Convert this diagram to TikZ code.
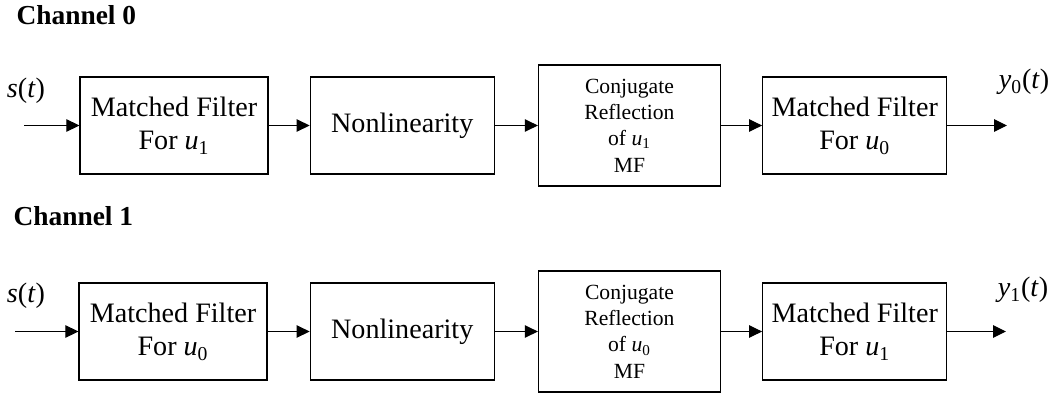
\documentclass[tikz,border=0pt]{standalone}
\usepackage{amsmath}
\usepackage{fontspec}
\setmainfont{Liberation Serif}
\usetikzlibrary{positioning,arrows.meta}

\begin{document}
\begin{tikzpicture}[line width=0.6pt,
	blk/.style={draw, line width=0.7pt, inner sep=0pt, align=center, minimum width=3.68cm, minimum height=1.94cm, font=\fontsize{16}{19}\selectfont},
	cblk/.style={blk, minimum width=3.64cm, minimum height=2.42cm, font=\fontsize{12.3}{15}\selectfont},
	sig/.style={-{Triangle[length=0.26cm,width=0.25cm]}},
	lbl/.style={font=\fontsize{16}{19}\selectfont},
	chan/.style={anchor=west, inner sep=0pt, font=\fontsize{15.6}{18}\selectfont\bfseries}]

\useasboundingbox (0,0) rectangle (21.1,-7.88);

%channel 0
\node[chan] (c0) at (0.32,-0.3) {Channel 0};

\node[blk, minimum width=3.76cm] (a) at (3.48,-2.51) {Matched Filter\\For \textit{u}$_{\text{1}}$};
\node[blk, right=0.82cm of a] (b) {Nonlinearity};
\node[cblk, right=0.86cm of b] (c) {Conjugate\\Reflection\\of \textit{u}$_{\text{1}}$\\MF};
\node[blk, right=0.82cm of c] (d) {Matched Filter\\For \textit{u}$_{\text{0}}$};

\coordinate (i0) at (0.48,-2.51);   %input s(t)
\coordinate (o0) at (20.14,-2.51);  %output y0(t)
\node[lbl] (s0) at (0.52,-1.82) {\textit{s}(\textit{t})};
\node[lbl] (y0) at (20.48,-1.64) {\textit{y}$_{\text{0}}$(\textit{t})};

\draw[sig] (i0) -- (a);
\draw[sig] (a) -- (b);
\draw[sig] (b) -- (c);
\draw[sig] (c) -- (d);
\draw[sig] (d) -- (o0);


%channel 1
\node[chan] (c1) at (0.26,-4.32) {Channel 1};

\node[blk, minimum width=3.76cm] (e) at (3.46,-6.63) {Matched Filter\\For \textit{u}$_{\text{0}}$};
\node[blk, right=0.84cm of e] (f) {Nonlinearity};
\node[cblk, right=0.86cm of f] (g) {Conjugate\\Reflection\\of \textit{u}$_{\text{0}}$\\MF};
\node[blk, right=0.82cm of g] (h) {Matched Filter\\For \textit{u}$_{\text{1}}$};

\coordinate (i1) at (0.3,-6.63);    %input s(t)
\coordinate (o1) at (20.12,-6.63);  %output y1(t)
\node[lbl] (s1) at (0.52,-5.92) {\textit{s}(\textit{t})};
\node[lbl] (y1) at (20.46,-5.8) {\textit{y}$_{\text{1}}$(\textit{t})};

\draw[sig] (i1) -- (e);
\draw[sig] (e) -- (f);
\draw[sig] (f) -- (g);
\draw[sig] (g) -- (h);
\draw[sig] (h) -- (o1);

\end{tikzpicture}
\end{document}
